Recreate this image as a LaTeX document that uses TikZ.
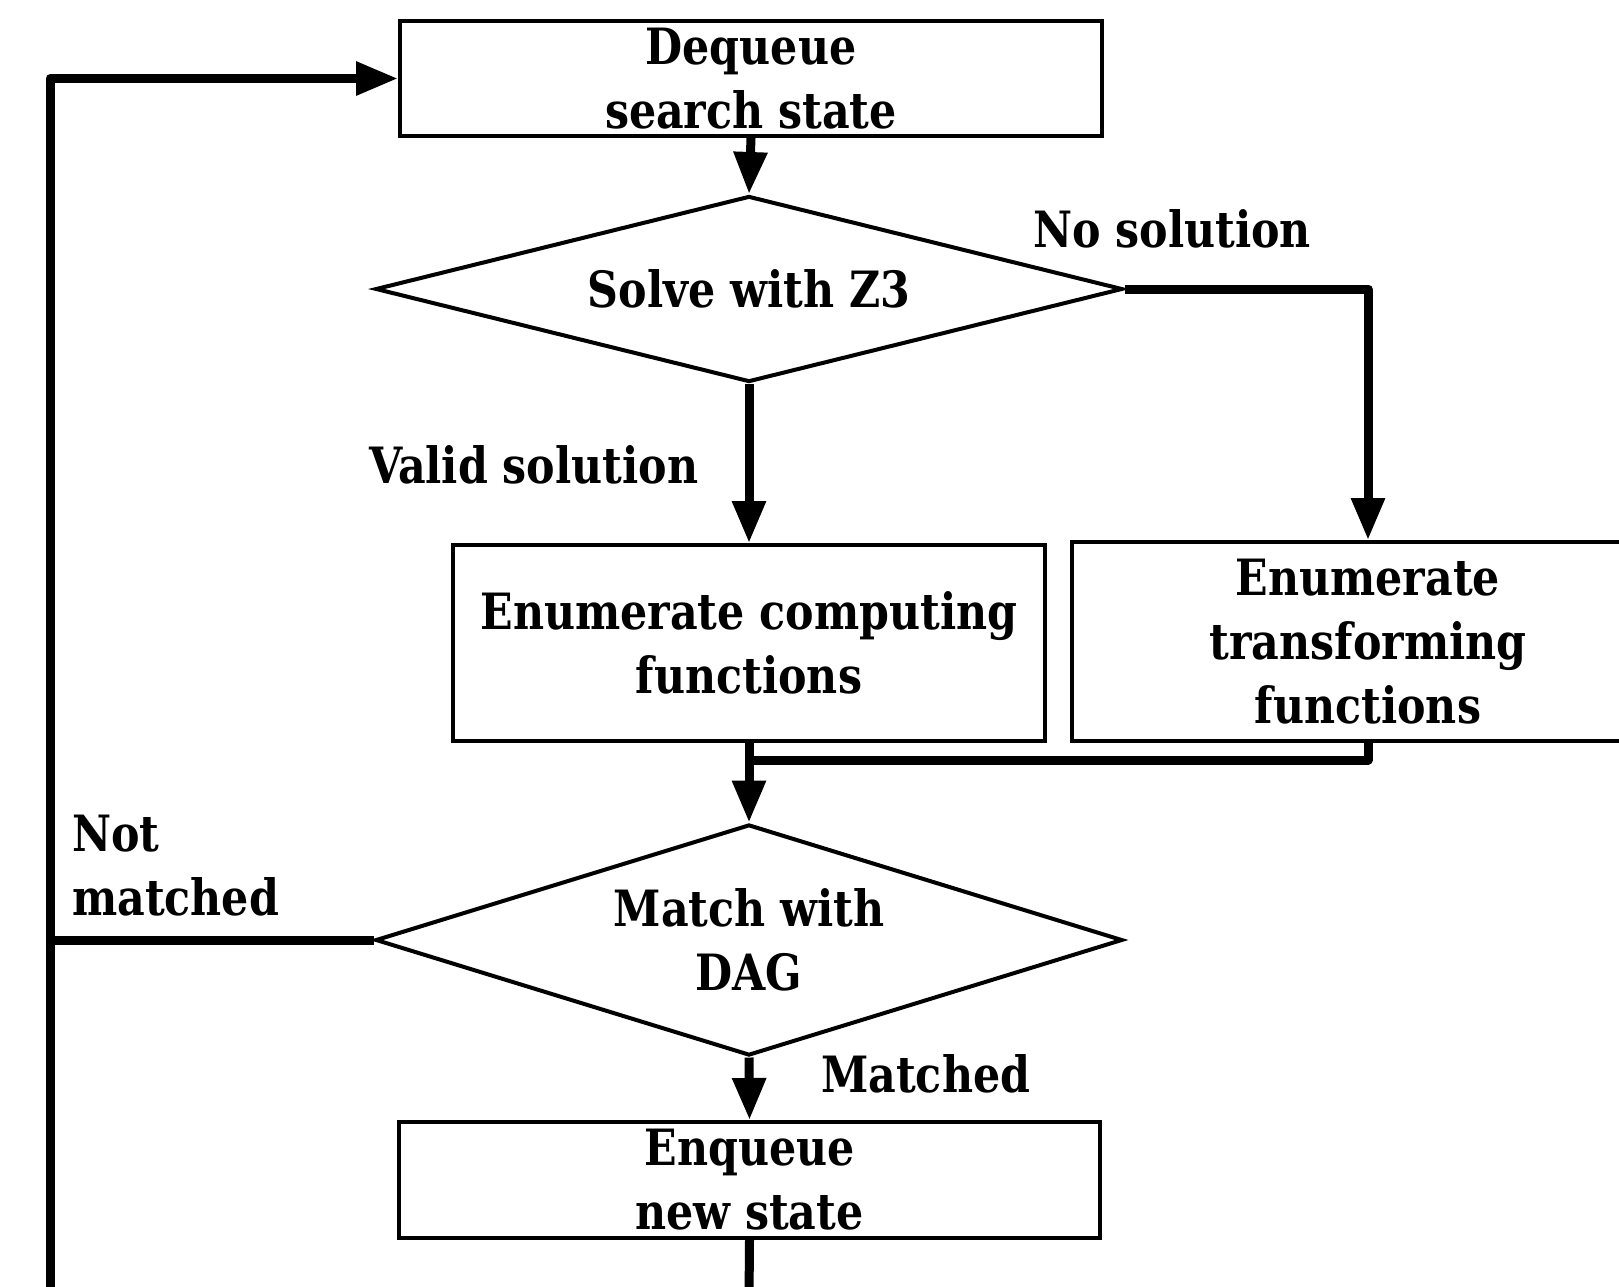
\documentclass[tikz,border=0pt]{standalone}
\usepackage{fontspec}
\setmainfont{DejaVu Serif Condensed}[BoldFont={DejaVu Serif Condensed Bold}, FakeStretch=0.95]
\usetikzlibrary{shapes.geometric,arrows.meta}
\begin{document}
\begin{tikzpicture}[x=1pt,y=-1pt,
  every node/.style={font=\fontsize{50}{64}\selectfont\bfseries, align=center, inner sep=0pt},
  box/.style={draw, line width=4pt, rectangle},
  dec/.style={draw, line width=4pt, diamond, aspect=3},
  flow/.style={line width=9pt, line join=round, -{Triangle[length=42pt,width=32pt]}},
  link/.style={line width=9pt, line join=round},
  lbl/.style={align=left}]
\useasboundingbox (0,0) rectangle (1619,1286);
\node[box, minimum width=702pt, minimum height=115pt] (deq) at (751,78.5) {Dequeue\\search state};
\node[dec, minimum width=747pt, minimum height=186pt] (solve) at (749,289) {Solve with Z3};
\node[box, minimum width=592pt, minimum height=196pt] (comp) at (749,643) {Enumerate computing\\functions};
\node[box, minimum width=592pt, minimum height=199pt] (trans) at (1368,641.5) {Enumerate\\transforming\\functions};
\node[dec, minimum width=747pt, minimum height=231pt] (match) at (749,940) {Match with\\DAG};
\node[box, minimum width=701pt, minimum height=116pt] (enq) at (749.5,1180) {Enqueue\\new state};
\coordinate (nsc) at (1368,289);
\coordinate (mrg) at (749,760);
\coordinate (mrgr) at (1368,760);
\coordinate (lpb) at (50,1300);
\coordinate (lpm) at (50,940);
\coordinate (enqb) at (749,1300);
\node[lbl, anchor=west] (nosol) at (1033,229) {No solution};
\node[lbl, anchor=west] (valid) at (369,465) {Valid solution};
\node[lbl, anchor=west] (notm) at (72,866) {Not\\matched};
\node[lbl, anchor=west] (mtch) at (821,1074) {Matched};
\draw[flow] (deq.south) -- (solve.north);
\draw[flow] (solve.east) -- (nsc) -- (trans.north);
\draw[flow] (solve.south) -- (comp.north);
\draw[link] (comp.south) -- (mrg);
\draw[link] (trans.south) -- (mrgr) -- (mrg);
\draw[flow] (mrg) -- (match.north);
\draw[flow] (match.south) -- (enq.north);
\draw[link] (enq.south) -- (enqb);
\draw[link] (match.west) -- (lpm);
\draw[flow] (lpb) |- (deq.west);
\end{tikzpicture}
\end{document}
